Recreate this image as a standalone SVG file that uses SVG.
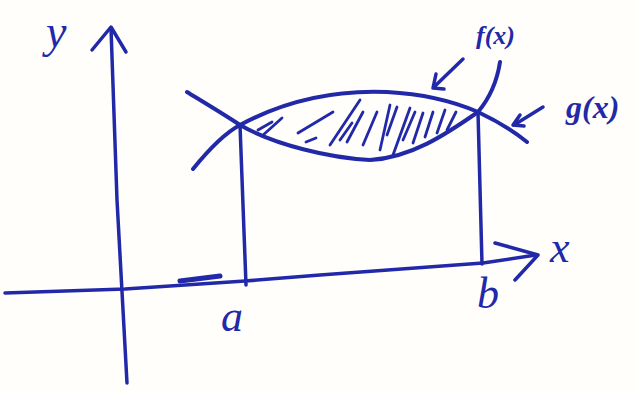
<svg xmlns="http://www.w3.org/2000/svg" width="637" height="393" viewBox="0 0 637 393">
<style>
.ink{fill:none;stroke:#2229a8;stroke-linecap:round;stroke-linejoin:round}
.ax{stroke-width:3.5}
.cv{stroke-width:4}
.ht{stroke-width:2.8}
.lbl{font-family:"Liberation Serif",serif;font-style:italic;fill:#2229a8}
</style>
<rect width="637" height="393" fill="#fffefb"/>
<g id="y-axis">
<path class="ink ax" d="M111,28 L117,200 L127,383"/>
<path class="ink ax" d="M92,50 L111,27 L126,52"/>
<text class="lbl" x="46" y="47" font-size="46">y</text>
</g>
<g id="x-axis">
<path class="ink ax" d="M5,293 L125,289 L245,281 L320,275 L483,263 L536,255"/>
<path class="ink ax" d="M495,243 L538,255 L515,280"/>
<path class="ink" stroke-width="5" d="M180,281 L220,276"/>
<text class="lbl" x="550" y="262" font-size="44">x</text>
</g>
<g id="curve-f">
<path class="ink cv" d="M193,169 C210,148 225,133 240,125 C290,98 340,90 387,92 C425,94 455,102 478,112 C495,120 512,130 527,142"/>
</g>
<g id="curve-g">
<path class="ink cv" d="M187,92 C205,103 225,115 240,125 C275,145 330,158 370,160 C410,158 445,135 478,112 C488,100 497,82 500,62"/>
</g>
<g id="hatching">
<path class="ink ht" d="M258,130 L272,122 M262,136 L282,118 M298,133 L333,112 M306,142 L316,138 M330,145 L360,100 M340,140 L352,123 M347,142 L363,112 M363,145 L377,112 M380,150 L390,105 M387,135 L397,107 M393,155 L410,108 M403,140 L415,112 M413,143 L423,113 M425,137 L433,112 M437,133 L445,110 M447,130 L456,112"/>
</g>
<g id="bound-a">
<path class="ink ax" d="M240,125 L246,285"/>
<text class="lbl" x="221" y="331" font-size="44">a</text>
</g>
<g id="bound-b">
<path class="ink ax" d="M478,112 L482,264"/>
<text class="lbl" x="477" y="308" font-size="44">b</text>
</g>
<g id="label-f">
<text class="lbl" x="476" y="44" font-size="26" font-weight="bold">f(x)</text>
</g>
<g id="label-g">
<text class="lbl" x="566" y="118" font-size="32" font-weight="bold">g(x)</text>
</g>
<g id="connectors">
<path class="ink ax" d="M463,59 L434,87"/>
<path class="ink ax" d="M436,74 L433,88 L444,89"/>
<path class="ink ax" d="M543,107 L514,125"/>
<path class="ink ax" d="M520,115 L513,125 L524,126"/>
</g>
</svg>
